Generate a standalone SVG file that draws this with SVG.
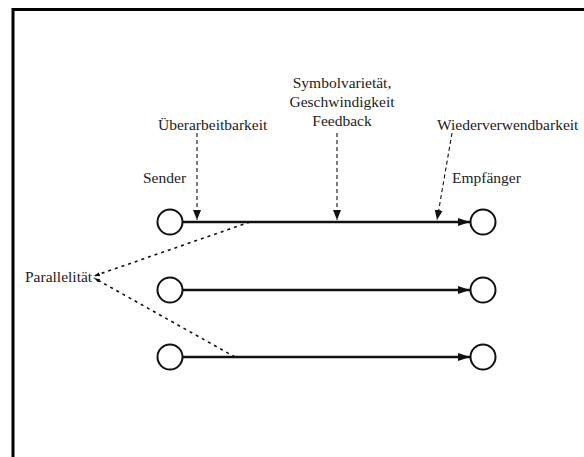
<svg xmlns="http://www.w3.org/2000/svg" width="584" height="457" viewBox="0 0 584 457">
<style>
text{font-family:"Liberation Serif","Times New Roman","DejaVu Serif",serif;font-size:15.5px;fill:#222}
.node{fill:#fff;stroke:#111;stroke-width:2}
.main{stroke:#111;stroke-width:2.6;fill:none}
.dash{stroke:#111;stroke-width:1.1;stroke-dasharray:4 3;fill:none}
.par{stroke:#111;stroke-width:1.6;stroke-dasharray:3 4;fill:none}
</style>
<defs>
<marker id="ah" markerWidth="12" markerHeight="8" refX="12" refY="4" orient="auto" markerUnits="userSpaceOnUse"><path d="M0,0 L12,4 L0,8 Z" fill="#111"/></marker>
<marker id="dh" markerWidth="8" markerHeight="10" refX="10" refY="4" orient="auto" markerUnits="userSpaceOnUse"><path d="M0,0 L10,4 L0,8 Z" fill="#111"/></marker>
<marker id="ph" markerWidth="6" markerHeight="4" refX="6" refY="2" orient="auto" markerUnits="userSpaceOnUse"><path d="M0,0 L6,2 L0,4 Z" fill="#111"/></marker>
</defs>
<path d="M13,457 V9.5 H584" fill="none" stroke="#000" stroke-width="3"/>
<g id="connectors">
<line class="main" x1="183" y1="222" x2="470" y2="222" marker-end="url(#ah)"/>
<line class="main" x1="183" y1="290" x2="470" y2="290" marker-end="url(#ah)"/>
<line class="main" x1="183" y1="357" x2="470" y2="357" marker-end="url(#ah)"/>
<line class="dash" x1="197" y1="133" x2="197" y2="220" marker-end="url(#dh)"/>
<line class="dash" x1="337" y1="133" x2="337" y2="220" marker-end="url(#dh)"/>
<line class="dash" x1="452" y1="133" x2="437" y2="220" marker-end="url(#dh)"/>
<line class="par" x1="250" y1="222" x2="94" y2="276" marker-end="url(#ph)"/>
<line class="par" x1="235" y1="357" x2="94" y2="278" marker-end="url(#ph)"/>
</g>
<g id="s1"><circle class="node" cx="170" cy="222" r="12.5"/></g>
<g id="s2"><circle class="node" cx="170" cy="290" r="12.5"/></g>
<g id="s3"><circle class="node" cx="170" cy="357" r="12.5"/></g>
<g id="r1"><circle class="node" cx="483" cy="222" r="12.5"/></g>
<g id="r2"><circle class="node" cx="483" cy="290" r="12.5"/></g>
<g id="r3"><circle class="node" cx="483" cy="357" r="12.5"/></g>
<g id="labels">
<text x="143" y="183">Sender</text>
<text x="452" y="183">Empfänger</text>
<text x="158" y="130">Überarbeitbarkeit</text>
<text x="342" y="88" text-anchor="middle">Symbolvarietät,</text>
<text x="342" y="107" text-anchor="middle">Geschwindigkeit</text>
<text x="342" y="126" text-anchor="middle">Feedback</text>
<text x="437" y="130">Wiederverwendbarkeit</text>
<text x="25" y="282">Parallelität</text>
</g>
</svg>
